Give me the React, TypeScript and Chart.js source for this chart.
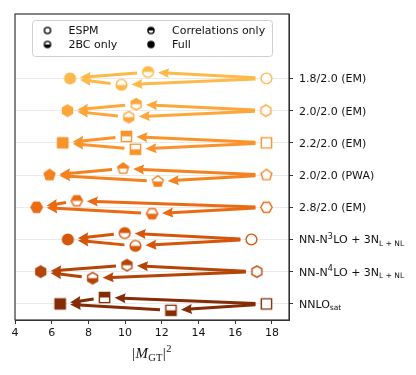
import React, { useEffect, useRef } from 'react';
import { Chart, registerables } from 'chart.js';

Chart.register(...registerables);

// ---- data (rows listed top to bottom) ----
const categories = [
  '1.8/2.0 (EM)',
  '2.0/2.0 (EM)',
  '2.2/2.0 (EM)',
  '2.0/2.0 (PWA)',
  '2.8/2.0 (EM)',
  'NN-N^3LO + 3N_{L + NL}',
  'NN-N^4LO + 3N_{L + NL}',
  'NNLO_{sat}',
];
const espmValues = [17.7, 17.67, 17.7, 17.7, 17.7, 16.88, 17.18, 17.7];
const corrValues = [11.25, 10.6, 10.07, 9.89, 7.37, 9.98, 10.1, 8.88];
const bcValues = [9.8, 10.2, 10.56, 11.78, 11.47, 10.56, 8.23, 12.5];
const fullValues = [7.0, 6.86, 6.6, 5.88, 5.18, 6.88, 5.4, 6.46];
const xTicks = [4, 6, 8, 10, 12, 14, 16, 18];
const legendLabels = ['ESPM', '2BC only', 'Correlations only', 'Full'];
const legendFills = ['none', 'bottom', 'top', 'full'];
const rowColors = ['#fdb94a', '#fda73b', '#fa932c', '#f4821f', '#ea6b13', '#d5560a', '#b54407', '#842c05'];
const rowShapes = ['circle', 'hexagon', 'square', 'pentagon', 'hexagon2', 'circle', 'hexagon', 'square'];

const CORR_DY = 0.2;
const BC_DY = -0.2;
const FONT = '"DejaVu Sans", sans-serif';

const yOf = (r: number) => categories.length - 1 - r;

function shapePath(ctx: CanvasRenderingContext2D, shape: string, cx: number, cy: number, r: number) {
  ctx.beginPath();
  if (shape === 'circle') {
    ctx.arc(cx, cy, r, 0, Math.PI * 2);
  } else if (shape === 'square') {
    const h = r * 0.95;
    ctx.rect(cx - h, cy - h, 2 * h, 2 * h);
  } else {
    const n = shape === 'pentagon' ? 5 : 6;
    const start = shape === 'hexagon2' ? 0 : -Math.PI / 2;
    const rr = r * 1.06;
    for (let i = 0; i < n; i++) {
      const a = start + (i * 2 * Math.PI) / n;
      const x = cx + rr * Math.cos(a);
      const y = cy + rr * Math.sin(a);
      if (i === 0) ctx.moveTo(x, y);
      else ctx.lineTo(x, y);
    }
    ctx.closePath();
  }
}

function makeMarker(shape: string, fill: string, color: string, r: number, lw: number) {
  const S = Math.ceil(2 * r + lw + 6);
  const cv = document.createElement('canvas');
  cv.width = S;
  cv.height = S;
  const ctx = cv.getContext('2d')!;
  const c = S / 2;
  ctx.lineWidth = lw;
  ctx.strokeStyle = color;
  if (fill === 'full') {
    shapePath(ctx, shape, c, c, r);
    ctx.fillStyle = color;
    ctx.fill();
    ctx.stroke();
  } else if (fill === 'none') {
    shapePath(ctx, shape, c, c, r);
    ctx.fillStyle = '#ffffff';
    ctx.fill();
    ctx.stroke();
  } else {
    shapePath(ctx, shape, c, c, r);
    ctx.fillStyle = '#ffffff';
    ctx.fill();
    ctx.save();
    ctx.beginPath();
    if (fill === 'top') ctx.rect(0, 0, S, c);
    else ctx.rect(0, c, S, S - c);
    ctx.clip();
    shapePath(ctx, shape, c, c, r);
    ctx.fillStyle = color;
    ctx.fill();
    ctx.restore();
    shapePath(ctx, shape, c, c, r);
    ctx.stroke();
  }
  return cv;
}

type Part = { t: string; kind: 'n' | 'sup' | 'sub' };
function parseLabel(s: string): Part[] {
  const parts: Part[] = [];
  let i = 0;
  let buf = '';
  while (i < s.length) {
    const ch = s[i];
    if (ch === '^' || ch === '_') {
      if (buf) parts.push({ t: buf, kind: 'n' });
      buf = '';
      const kind = ch === '^' ? 'sup' : 'sub';
      if (s[i + 1] === '{') {
        const end = s.indexOf('}', i + 2);
        parts.push({ t: s.slice(i + 2, end), kind });
        i = end + 1;
      } else {
        parts.push({ t: s[i + 1], kind });
        i += 2;
      }
    } else {
      buf += ch;
      i++;
    }
  }
  if (buf) parts.push({ t: buf, kind: 'n' });
  return parts;
}

function drawArrow(ctx: CanvasRenderingContext2D, x1: number, y1: number, x2: number, y2: number, color: string) {
  const dx = x2 - x1;
  const dy = y2 - y1;
  const L = Math.hypot(dx, dy);
  const ux = dx / L;
  const uy = dy / L;
  const shrinkA = 11;
  const shrinkB = 10;
  const headLen = 11;
  const headW = 5;
  const sx = x1 + ux * shrinkA;
  const sy = y1 + uy * shrinkA;
  const tx = x2 - ux * shrinkB;
  const ty = y2 - uy * shrinkB;
  const bx = tx - ux * headLen;
  const by = ty - uy * headLen;
  ctx.save();
  ctx.strokeStyle = color;
  ctx.fillStyle = color;
  ctx.lineWidth = 3;
  ctx.lineCap = 'butt';
  ctx.beginPath();
  ctx.moveTo(sx, sy);
  ctx.lineTo(bx + ux * 2, by + uy * 2);
  ctx.stroke();
  ctx.beginPath();
  ctx.moveTo(tx, ty);
  ctx.lineTo(bx - uy * headW, by + ux * headW);
  ctx.lineTo(bx + ux * 1.5, by + uy * 1.5);
  ctx.lineTo(bx + uy * headW, by - ux * headW);
  ctx.closePath();
  ctx.fill();
  ctx.restore();
}

export default function App() {
  const ref = useRef<HTMLCanvasElement | null>(null);

  useEffect(() => {
    if (!ref.current) return;
    const R = 5.4;
    const LW = 1.4;
    const mk = (fill: string) => rowShapes.map((s, i) => makeMarker(s, fill, rowColors[i], R, LW));
    const espmM = mk('none');
    const corrM = mk('top');
    const bcM = mk('bottom');
    const fullM = mk('full');
    const legendM = legendFills.map((f) => makeMarker('circle', f, '#000000', 3.1, 1.3));

    const ds = (label: string, vals: number[], dy: number, markers: HTMLCanvasElement[]) => ({
      label,
      data: vals.map((v, i) => ({ x: v, y: yOf(i) + dy })),
      pointStyle: markers,
      pointRadius: 6,
      pointHoverRadius: 6,
      showLine: false,
      clip: false as any,
    });

    const arrowsPlugin = {
      id: 'arrows',
      beforeDatasetsDraw(chart: any) {
        const ctx = chart.ctx;
        const xs = chart.scales.x;
        const ys = chart.scales.y;
        categories.forEach((_, i) => {
          const col = rowColors[i];
          const y0 = ys.getPixelForValue(yOf(i));
          const yc = ys.getPixelForValue(yOf(i) + CORR_DY);
          const yb = ys.getPixelForValue(yOf(i) + BC_DY);
          const xe = xs.getPixelForValue(espmValues[i]);
          const xc = xs.getPixelForValue(corrValues[i]);
          const xb = xs.getPixelForValue(bcValues[i]);
          const xf = xs.getPixelForValue(fullValues[i]);
          drawArrow(ctx, xe, y0, xc, yc, col);
          drawArrow(ctx, xe, y0, xb, yb, col);
          drawArrow(ctx, xc, yc, xf, y0, col);
          drawArrow(ctx, xb, yb, xf, y0, col);
        });
      },
    };

    const decorPlugin = {
      id: 'decor',
      afterDraw(chart: any) {
        const ctx: CanvasRenderingContext2D = chart.ctx;
        const a = chart.chartArea;
        const ys = chart.scales.y;
        ctx.save();
        // frame
        ctx.strokeStyle = '#333333';
        ctx.lineWidth = 1.2;
        ctx.strokeRect(a.left, a.top, a.right - a.left, a.bottom - a.top);

        // y tick labels with sub/superscripts
        ctx.fillStyle = '#111111';
        ctx.textBaseline = 'alphabetic';
        ctx.textAlign = 'left';
        categories.forEach((c, i) => {
          const parts = parseLabel(c);
          let x = a.right + 10;
          const yb = ys.getPixelForValue(yOf(i)) + 4;
          parts.forEach((p) => {
            if (p.kind === 'n') {
              ctx.font = `11px ${FONT}`;
              ctx.fillText(p.t, x, yb);
            } else if (p.kind === 'sup') {
              ctx.font = `8px ${FONT}`;
              ctx.fillText(p.t, x, yb - 4.5);
            } else {
              ctx.font = `7.5px ${FONT}`;
              ctx.fillText(p.t, x, yb + 2.5);
            }
            x += ctx.measureText(p.t).width + (p.kind === 'n' ? 0 : 0.5);
          });
        });

        // x axis title |M_GT|^2
        const cx = (a.left + a.right) / 2;
        const base = 358;
        const segs = [
          { t: '|', f: '15px "Liberation Serif", serif', dy: 0 },
          { t: 'M', f: 'italic 15px "Liberation Serif", serif', dy: 0 },
          { t: 'GT', f: '10.5px "Liberation Serif", serif', dy: 2.5 },
          { t: '|', f: '15px "Liberation Serif", serif', dy: 0 },
          { t: '2', f: '10.5px "Liberation Serif", serif', dy: -6 },
        ];
        let tw = 0;
        segs.forEach((s) => {
          ctx.font = s.f;
          tw += ctx.measureText(s.t).width + 0.5;
        });
        let xx = cx - tw / 2;
        ctx.fillStyle = '#111111';
        segs.forEach((s) => {
          ctx.font = s.f;
          ctx.fillText(s.t, xx, base + s.dy);
          xx += ctx.measureText(s.t).width + 0.5;
        });

        // legend
        const lx = 32.5, ly = 20.5, lw = 240, lh = 36;
        ctx.beginPath();
        const rr = 3;
        ctx.moveTo(lx + rr, ly);
        ctx.lineTo(lx + lw - rr, ly);
        ctx.quadraticCurveTo(lx + lw, ly, lx + lw, ly + rr);
        ctx.lineTo(lx + lw, ly + lh - rr);
        ctx.quadraticCurveTo(lx + lw, ly + lh, lx + lw - rr, ly + lh);
        ctx.lineTo(lx + rr, ly + lh);
        ctx.quadraticCurveTo(lx, ly + lh, lx, ly + lh - rr);
        ctx.lineTo(lx, ly + rr);
        ctx.quadraticCurveTo(lx, ly, lx + rr, ly);
        ctx.closePath();
        ctx.fillStyle = 'rgba(255,255,255,0.85)';
        ctx.fill();
        ctx.strokeStyle = '#d0d0d0';
        ctx.lineWidth = 1;
        ctx.stroke();

        const pos = [
          { mx: 47.5, my: 30.5 },
          { mx: 47.5, my: 44.5 },
          { mx: 151, my: 30.5 },
          { mx: 151, my: 44.5 },
        ];
        ctx.font = `11px ${FONT}`;
        ctx.fillStyle = '#111111';
        ctx.textBaseline = 'middle';
        legendLabels.forEach((lab, i) => {
          const m = legendM[i];
          const p = pos[i];
          ctx.drawImage(m, p.mx - m.width / 2, p.my - m.height / 2);
          ctx.fillText(lab, p.mx + 21, p.my + 0.5);
        });
        ctx.restore();
      },
    };

    const chart = new Chart(ref.current, {
      type: 'scatter',
      data: {
        datasets: [
          ds('ESPM', espmValues, 0, espmM),
          ds('2BC only', bcValues, BC_DY, bcM),
          ds('Correlations only', corrValues, CORR_DY, corrM),
          ds('Full', fullValues, 0, fullM),
        ],
      },
      options: {
        animation: false,
        responsive: false,
        devicePixelRatio: 1,
        layout: { padding: { left: 15, top: 14, right: 0, bottom: 0 } },
        plugins: { legend: { display: false }, tooltip: { enabled: false } },
        events: [],
        scales: {
          x: {
            type: 'linear',
            position: 'bottom',
            min: 4,
            max: 18.93,
            afterBuildTicks: (scale: any) => {
              scale.ticks = xTicks.map((v) => ({ value: v }));
            },
            afterFit: (scale: any) => {
              scale.height = 55;
            },
            grid: {
              drawOnChartArea: false,
              drawTicks: true,
              tickLength: 4,
              tickColor: '#333333',
              tickWidth: 1,
            },
            border: { display: true, color: '#333333', width: 1 },
            ticks: {
              color: '#111111',
              font: { family: FONT, size: 11 },
              padding: 3,
              maxRotation: 0,
              autoSkip: false,
              callback: (v: any) => String(v),
            },
          },
          y: {
            type: 'linear',
            position: 'right',
            min: -0.5,
            max: 9.0,
            afterBuildTicks: (scale: any) => {
              scale.ticks = categories.map((_, i) => ({ value: i }));
            },
            afterFit: (scale: any) => {
              scale.width = 127;
            },
            grid: {
              drawOnChartArea: true,
              color: '#ebebeb',
              lineWidth: 1,
              drawTicks: true,
              tickLength: 4,
              tickColor: '#333333',
              tickWidth: 1,
            },
            border: { display: true, color: '#333333', width: 1 },
            ticks: { callback: () => '', font: { family: FONT, size: 11 } },
          },
        },
      } as any,
      plugins: [arrowsPlugin, decorPlugin],
    });
    return () => chart.destroy();
  }, []);

  return (
    <div style={{ position: 'fixed', left: 0, top: 0, width: 416, height: 375, background: '#ffffff' }}>
      <canvas ref={ref} width={416} height={375} style={{ display: 'block' }} />
    </div>
  );
}
